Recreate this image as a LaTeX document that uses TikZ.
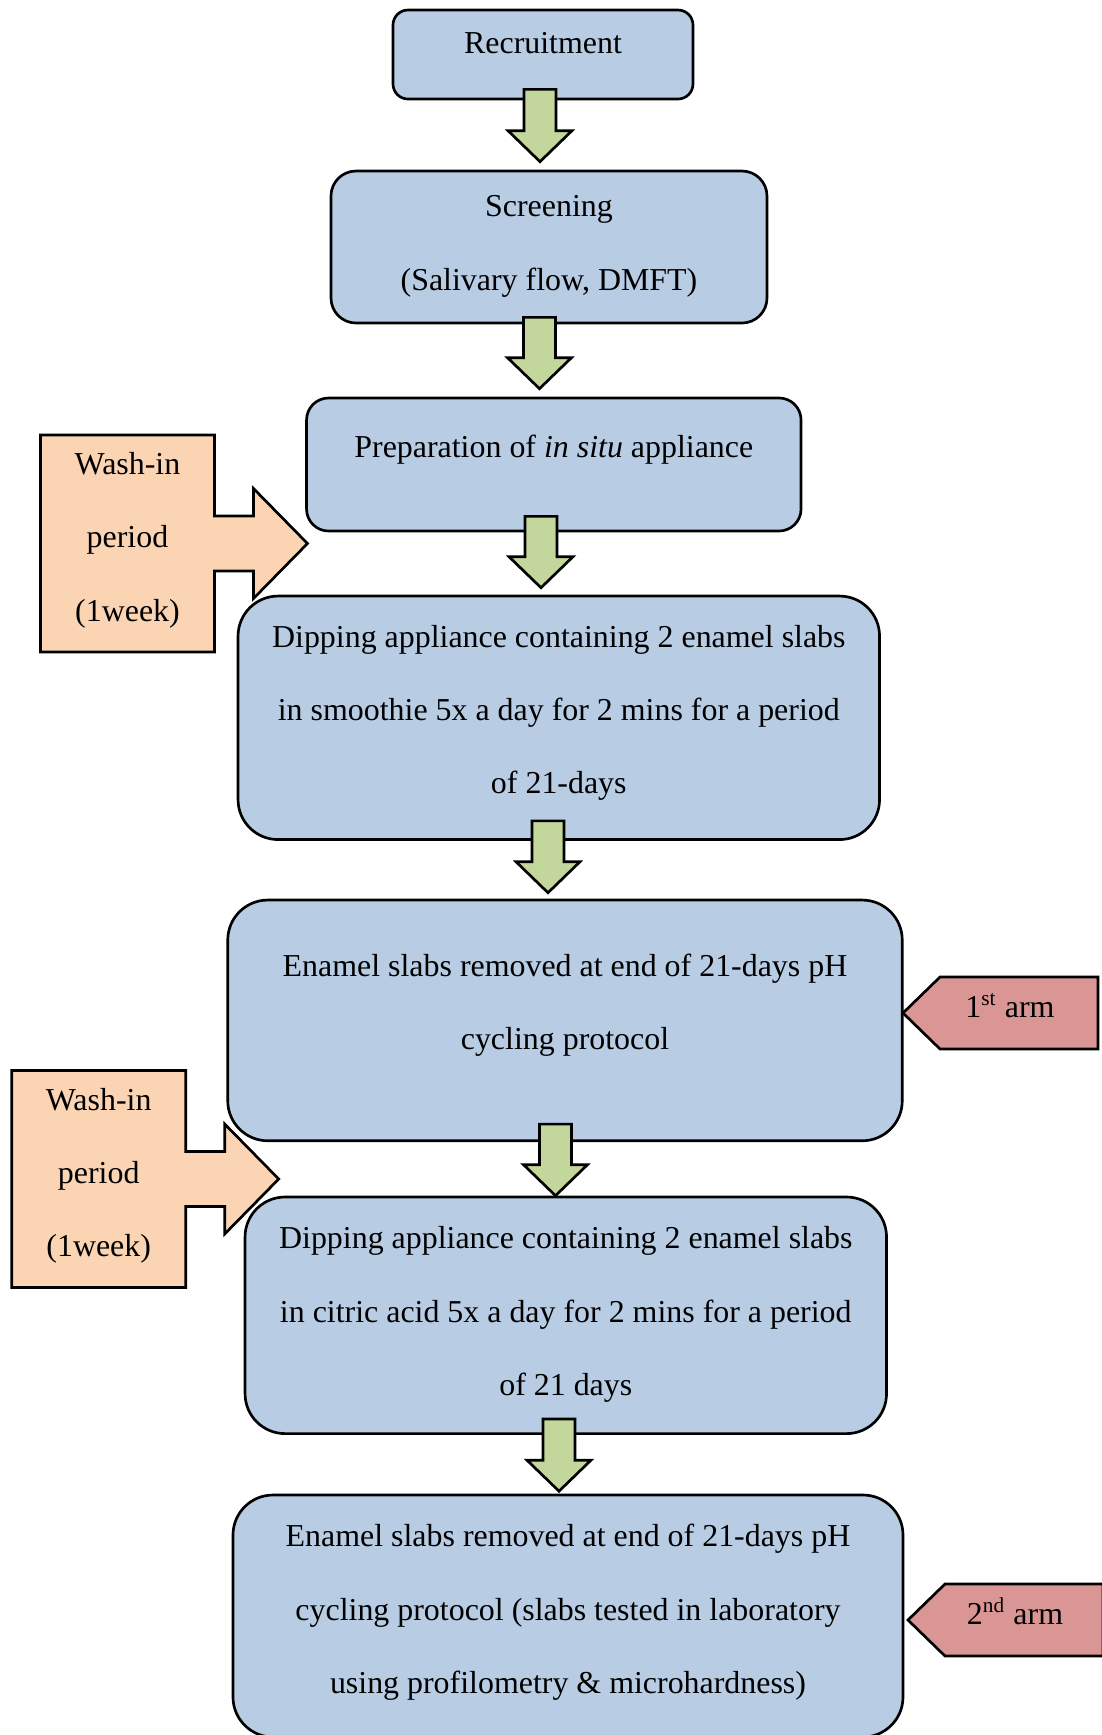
\documentclass[tikz,border=0pt]{standalone}
\usepackage{fontspec}
\setmainfont{Liberation Serif}
\usetikzlibrary{calc}
\definecolor{pale}{RGB}{184,204,228}
\definecolor{sage}{RGB}{195,214,155}
\definecolor{peach}{RGB}{251,212,180}
\definecolor{rose}{RGB}{217,150,148}
\newdimen\pxu \pxu=0.376pt
% extra depth on the last line, lifts the text inside a box
\newcommand{\lift}[1]{\rule[-#1]{0pt}{#1}}
\tikzset{
  box/.style n args={3}{draw=black,line width=1pt,fill=pale,align=center,inner sep=0pt,
    font=\fontsize{12}{27.6}\selectfont,minimum width=#1*\pxu,minimum height=#2*\pxu,
    rounded corners=#3*\pxu},
  flow/.style={draw=black,line width=1pt,fill=sage,line join=miter},
  callout/.style={draw=black,line width=1pt,fill=#1,line join=miter},
  tag/.style={align=center,inner sep=0pt,font=\fontsize{12}{27.6}\selectfont},
  % side shapes
  pics/washin/.style={code={
    \filldraw[callout=peach] (-87,-108.5) -- (87,-108.5) -- (87,-27.5) -- (126,-27.5)
      -- (126,-55) -- (180,0) -- (126,55) -- (126,27.5) -- (87,27.5) -- (87,108.5)
      -- (-87,108.5) -- cycle;
    \node[tag] (-txt) at (0,0) {Wash-in\\period\\(1week)\lift{5pt}};
  }},
  pics/arm/.style={code={
    \filldraw[callout=rose] (0,0) -- (37,-36) -- (195,-36) -- (195,36) -- (37,36) -- cycle;
    \node[tag,anchor=base] (-txt) at (107,4) {#1};
  }},
}

\begin{document}
\begin{tikzpicture}[x=0.376pt,y=-0.376pt]
  \useasboundingbox (0,0) rectangle (1102,1735);

  \node[box={300}{89}{15}] (rec) at (543,54.5) {Recruitment\lift{8.7pt}};
  \node[box={436}{152}{25}] (scr) at (549,247) {Screening\\(Salivary flow, DMFT)\lift{3pt}};
  \node[box={494.5}{133}{22}] (prep) at (553.8,464.5) {Preparation of \textit{in situ} appliance\lift{13.9pt}};
  \node[box={641.5}{243.5}{40}] (dip1) at (558.8,717.8)
    {Dipping appliance containing 2 enamel slabs\\in smoothie 5x a day for 2 mins for a period\\of 21-days\lift{6.3pt}};
  \node[box={674.5}{240.7}{40}] (en1) at (565,1020.4)
    {Enamel slabs removed at end of 21-days pH\\cycling protocol\lift{14.2pt}};
  \node[box={641.5}{236.6}{40}] (dip2) at (565.8,1315.3)
    {Dipping appliance containing 2 enamel slabs\\in citric acid 5x a day for 2 mins for a period\\of 21 days\lift{3.3pt}};
  \node[box={670}{242}{40}] (en2) at (568,1616)
    {Enamel slabs removed at end of 21-days pH\\cycling protocol (slabs tested in laboratory\\using profilometry \& microhardness)\lift{5.3pt}};

  \pic (wash1) at (127.5,543.5) {washin};
  \pic (wash2) at (98.7,1179) {washin};
  \pic (arm1) at (903,1013) {arm={1\textsuperscript{st} arm}};
  \pic (arm2) at (908,1620) {arm={2\textsuperscript{nd} arm}};

  \foreach \from/\to/\cx/\ins/\gap in {rec/scr/540/11/8,scr/prep/539.5/7/8,prep/dip1/541/16/7,
      dip1/en1/548/20/6,en1/dip2/555.5/18/0,dip2/en2/559/16/2.5}
    \filldraw[flow] let \p1=(\from.south), \p2=(\to.north),
        \n1={\y1+\ins*\pxu}, \n2={\y2+\gap*\pxu}, \n3={\y2+(\gap+31)*\pxu}, \n4={\cx*\pxu}
      in ({\n4-16*\pxu},\n1) -- ({\n4+16*\pxu},\n1) -- ({\n4+16*\pxu},\n3) -- ({\n4+32*\pxu},\n3)
        -- (\n4,\n2) -- ({\n4-32*\pxu},\n3) -- ({\n4-16*\pxu},\n3) -- cycle;
\end{tikzpicture}
\end{document}
